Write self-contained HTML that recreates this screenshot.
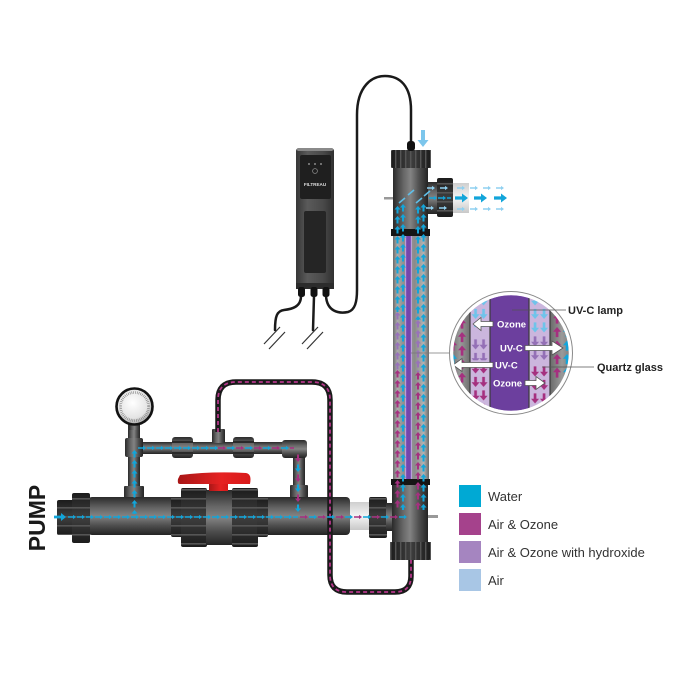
<!DOCTYPE html>
<html><head><meta charset="utf-8"><style>html,body{margin:0;padding:0;background:#fff}svg{display:block}</style></head>
<body>
<svg width="700" height="700" viewBox="0 0 700 700" xmlns="http://www.w3.org/2000/svg" font-family="Liberation Sans, Arial, sans-serif">
<defs>
<linearGradient id="pH" x1="0" y1="0" x2="0" y2="1">
<stop offset="0" stop-color="#2a2a2a"/><stop offset="0.3" stop-color="#666"/><stop offset="0.5" stop-color="#838383"/><stop offset="0.75" stop-color="#4e4e4e"/><stop offset="1" stop-color="#242424"/>
</linearGradient>
<linearGradient id="pV" x1="0" y1="0" x2="1" y2="0">
<stop offset="0" stop-color="#2a2a2a"/><stop offset="0.3" stop-color="#666"/><stop offset="0.5" stop-color="#838383"/><stop offset="0.75" stop-color="#4e4e4e"/><stop offset="1" stop-color="#242424"/>
</linearGradient>
<linearGradient id="tube" x1="0" y1="0" x2="1" y2="0">
<stop offset="0" stop-color="#6a6a6a"/><stop offset="0.12" stop-color="#ababab"/><stop offset="0.3" stop-color="#8e8e8e"/><stop offset="0.45" stop-color="#9c9c9c"/><stop offset="0.6" stop-color="#8a8a8a"/><stop offset="0.85" stop-color="#b3b3b3"/><stop offset="1" stop-color="#6a6a6a"/>
</linearGradient>
<linearGradient id="nutH" x1="0" y1="0" x2="0" y2="1">
<stop offset="0" stop-color="#1c1c1c"/><stop offset="0.5" stop-color="#3e3e3e"/><stop offset="1" stop-color="#1c1c1c"/>
</linearGradient>
<linearGradient id="nutV" x1="0" y1="0" x2="1" y2="0">
<stop offset="0" stop-color="#1c1c1c"/><stop offset="0.5" stop-color="#3e3e3e"/><stop offset="1" stop-color="#1c1c1c"/>
</linearGradient>
<linearGradient id="ctrl" x1="0" y1="0" x2="1" y2="0">
<stop offset="0" stop-color="#363636"/><stop offset="0.3" stop-color="#5a5a5a"/><stop offset="0.7" stop-color="#4a4a4a"/><stop offset="1" stop-color="#303030"/>
</linearGradient>
<linearGradient id="red" x1="0" y1="0" x2="1" y2="0">
<stop offset="0" stop-color="#a81616"/><stop offset="0.6" stop-color="#e62222"/><stop offset="1" stop-color="#d81a1a"/>
</linearGradient>
<linearGradient id="sleeve" x1="0" y1="0" x2="0" y2="1">
<stop offset="0" stop-color="#cfcfcf"/><stop offset="0.5" stop-color="#f4f4f4"/><stop offset="1" stop-color="#c8c8c8"/>
</linearGradient>
<linearGradient id="grayC" x1="0" y1="0" x2="1" y2="0">
<stop offset="0" stop-color="#6a6a6a"/><stop offset="0.5" stop-color="#9a9a9a"/><stop offset="1" stop-color="#707070"/>
</linearGradient>
<radialGradient id="gauge" cx="0.45" cy="0.4" r="0.6">
<stop offset="0" stop-color="#ffffff"/><stop offset="0.7" stop-color="#e4e4e4"/><stop offset="1" stop-color="#a8a8a8"/>
</radialGradient>
<pattern id="ribH" width="10" height="9" patternUnits="userSpaceOnUse"><rect y="3" width="10" height="1.6" fill="#555"/></pattern>
<pattern id="ribV" width="5" height="10" patternUnits="userSpaceOnUse"><rect width="1.4" height="10" fill="#555"/></pattern>
<pattern id="vaB" width="6" height="10" patternUnits="userSpaceOnUse"><path d="M3 0L6 3.5H4V7.5H2V3.5H0Z" fill="#12a5da"/></pattern>
<pattern id="vaP" width="6" height="10" patternUnits="userSpaceOnUse"><path d="M3 0L6 3.5H4V7.5H2V3.5H0Z" fill="#9873b9"/></pattern>
<pattern id="vaM" width="6" height="10" patternUnits="userSpaceOnUse"><path d="M3 0L6 3.5H4V7.5H2V3.5H0Z" fill="#a5307f"/></pattern>
<pattern id="vaBM" width="6" height="20" patternUnits="userSpaceOnUse"><path d="M3 0L6 3.5H4V7.5H2V3.5H0Z" fill="#12a5da"/><path d="M3 10L6 13.5H4V17.5H2V13.5H0Z" fill="#a5307f"/></pattern>
<pattern id="vdL" width="6" height="10" patternUnits="userSpaceOnUse"><path d="M3 10L6 6.5H4V2.5H2V6.5H0Z" fill="#6fc3ea"/></pattern>
<pattern id="vdP" width="6" height="10" patternUnits="userSpaceOnUse"><path d="M3 10L6 6.5H4V2.5H2V6.5H0Z" fill="#9470b6"/></pattern>
<pattern id="vdM" width="6" height="10" patternUnits="userSpaceOnUse"><path d="M3 10L6 6.5H4V2.5H2V6.5H0Z" fill="#a5307f"/></pattern>
<pattern id="vdBM" width="6" height="20" patternUnits="userSpaceOnUse"><path d="M3 10L6 6.5H4V2.5H2V6.5H0Z" fill="#a5307f"/><path d="M3 20L6 16.5H4V12.5H2V16.5H0Z" fill="#12a5da"/></pattern>
<pattern id="haB" width="9" height="6" patternUnits="userSpaceOnUse"><path d="M0 2.3H5V3.7H0Z M5 0.9L8 3L5 5.1Z" fill="#12a5da"/></pattern>
<pattern id="haL" width="13" height="6" patternUnits="userSpaceOnUse"><path d="M0 2.3H5V3.7H0Z M5 0.9L8 3L5 5.1Z" fill="#8fd0f0"/></pattern>
<pattern id="haBM" width="18" height="6" patternUnits="userSpaceOnUse"><path d="M0 2.3H5V3.7H0Z M5 0.9L8 3L5 5.1Z" fill="#a5307f"/><path d="M9 2.3H14V3.7H9Z M14 0.9L17 3L14 5.1Z" fill="#12a5da"/></pattern>
<clipPath id="circ"><circle cx="511" cy="353" r="58"/></clipPath>
</defs>

<rect width="700" height="700" fill="#fff"/>

<g fill="none" stroke="#1a1a1a" stroke-width="2.5" stroke-linecap="round">
<path d="M326 296 C327 311, 338 314, 348 312 C355 310, 357 302, 357 290 L357 115 C357 86, 372 76, 385 76 C400 76, 411 86, 411 110 L411 143"/>
<path d="M301 296 C301 307, 292 309, 284 310 C277 311, 275 316, 275 330"/>
<path d="M314 296 L313 330"/>
</g>
<g stroke="#333" stroke-width="1.2">
<line x1="264" y1="344" x2="280" y2="327"/><line x1="269" y1="349" x2="285" y2="332"/>
<line x1="302" y1="344" x2="318" y2="327"/><line x1="307" y1="349" x2="323" y2="332"/>
</g>
<rect x="296" y="148" width="38" height="141" rx="3" fill="url(#ctrl)"/>
<rect x="297" y="148" width="36" height="3" rx="1.5" fill="#8a8a8a"/>
<rect x="300" y="155" width="31" height="44" rx="2" fill="#1f1f1f"/>
<circle cx="309" cy="164" r="0.9" fill="#aaa"/><circle cx="315" cy="164" r="0.9" fill="#aaa"/><circle cx="321" cy="164" r="0.9" fill="#aaa"/>
<circle cx="315" cy="171" r="2.4" fill="none" stroke="#888" stroke-width="0.8"/>
<text x="315" y="186" font-size="4.6" font-weight="bold" fill="#ddd" text-anchor="middle">FILTREAU</text>
<rect x="304" y="211" width="22" height="62" rx="2" fill="#252525"/>
<rect x="296" y="283" width="38" height="6" fill="#2c2c2c"/>
<rect x="298" y="287" width="7" height="10" rx="2.5" fill="#111"/>
<rect x="310.5" y="287" width="7" height="10" rx="2.5" fill="#111"/>
<rect x="322.5" y="287" width="7" height="10" rx="2.5" fill="#111"/>

<rect x="127" y="442" width="176" height="12" fill="url(#pH)"/>
<rect x="128" y="424" width="12" height="68" fill="url(#pV)"/>
<rect x="125" y="438" width="18" height="19" rx="2" fill="url(#pV)"/>
<rect x="124" y="486" width="20" height="12" rx="1" fill="url(#pV)"/>
<rect x="172" y="437" width="21" height="21" rx="3" fill="url(#pH)"/>
<rect x="172" y="441" width="21" height="2" fill="#2a2a2a"/><rect x="172" y="452" width="21" height="2" fill="#2a2a2a"/>
<rect x="233" y="437" width="21" height="21" rx="3" fill="url(#pH)"/>
<rect x="233" y="441" width="21" height="2" fill="#2a2a2a"/><rect x="233" y="452" width="21" height="2" fill="#2a2a2a"/>
<rect x="212" y="429" width="13" height="14" rx="1" fill="url(#pV)"/>
<rect x="293" y="452" width="12" height="36" fill="url(#pV)"/>
<rect x="282" y="440" width="25" height="18" rx="3" fill="url(#pH)"/>
<rect x="290" y="485" width="18" height="13" rx="1" fill="url(#pV)"/>
<rect x="129" y="422" width="11" height="8" fill="url(#pV)"/>
<circle cx="134.5" cy="406.5" r="18" fill="url(#gauge)" stroke="#121212" stroke-width="2.6"/>
<circle cx="134.5" cy="406.5" r="14" fill="none" stroke="#6a6a6a" stroke-width="2.6" stroke-dasharray="0.5 1.3"/>

<rect x="88" y="497" width="262" height="38" rx="4" fill="url(#pH)"/>
<rect x="350" y="502" width="20" height="28" fill="url(#sleeve)"/>
<rect x="369" y="497" width="18" height="41" rx="2" fill="url(#nutH)"/>
<rect x="369" y="497" width="18" height="41" rx="2" fill="url(#ribH)"/>
<rect x="386" y="503" width="7" height="28" fill="url(#pH)"/>
<rect x="57" y="500" width="17" height="35" rx="2" fill="url(#nutH)"/>
<rect x="57" y="500" width="17" height="35" rx="2" fill="url(#ribH)"/>
<rect x="72" y="493" width="18" height="50" rx="2" fill="url(#nutH)"/>
<rect x="72" y="493" width="18" height="50" rx="2" fill="url(#ribH)"/>
<rect x="171" y="498" width="12" height="39" rx="2" fill="url(#nutH)"/>
<rect x="171" y="498" width="12" height="39" fill="url(#ribH)"/>
<rect x="181" y="488" width="26" height="59" rx="2" fill="url(#nutH)"/>
<rect x="181" y="488" width="26" height="59" fill="url(#ribH)"/>
<rect x="206" y="490" width="28" height="55" fill="url(#pH)"/>
<rect x="232" y="488" width="26" height="59" rx="2" fill="url(#nutH)"/>
<rect x="232" y="488" width="26" height="59" fill="url(#ribH)"/>
<rect x="257" y="498" width="11" height="39" rx="2" fill="url(#nutH)"/>
<rect x="257" y="498" width="11" height="39" fill="url(#ribH)"/>
<rect x="209" y="482" width="19" height="9" fill="url(#red)"/>
<path d="M180 475 Q213 471 246 473 Q252 474 250 484 L180 484 Q177 484 178 479 Z" fill="url(#red)"/>

<rect x="393" y="234" width="36" height="248" fill="url(#tube)"/>
<rect x="405" y="234" width="7" height="248" fill="#b9a0d8"/>
<rect x="406.2" y="234" width="4.6" height="248" fill="#7445ad"/>
<rect x="392" y="484" width="36" height="60" fill="url(#pV)"/>
<rect x="391" y="479" width="39" height="6" fill="#151515"/>
<rect x="390" y="542" width="41" height="18" rx="2" fill="url(#nutV)"/>
<rect x="390" y="542" width="41" height="18" fill="url(#ribV)"/>
<rect x="428" y="515" width="10" height="3" fill="#999"/>
<rect x="393" y="166" width="35" height="68" fill="url(#pV)"/>
<rect x="391" y="150" width="40" height="18" rx="2" fill="url(#nutV)"/>
<rect x="391" y="150" width="40" height="18" fill="url(#ribV)"/>
<rect x="391" y="229" width="39" height="7" fill="#151515"/>
<rect x="428" y="182" width="10" height="32" fill="url(#pH)"/>
<rect x="452" y="183" width="17" height="30" fill="url(#sleeve)"/>
<rect x="437" y="178" width="16" height="39" rx="2" fill="url(#nutH)"/>
<rect x="437" y="178" width="16" height="39" fill="url(#ribH)"/>
<rect x="384" y="197" width="9" height="2.5" fill="#999"/>
<rect x="407" y="141" width="8" height="10" rx="3" fill="#111"/>
<path d="M421 130H425V140H428.5L423 147L417.5 140H421Z" fill="#7cc6ec"/>

<path d="M218 432 L218 400 Q218 382 236 382 L312 382 Q330 382 330 400 L330 575 Q330 592 347 592 L395 592 Q411 592 411 576 L411 560" fill="none" stroke="#1a1a1a" stroke-width="5.5"/>
<path d="M218 432 L218 400 Q218 382 236 382 L312 382 Q330 382 330 400 L330 575 Q330 592 347 592 L395 592 Q411 592 411 576 L411 560" fill="none" stroke="#b5368a" stroke-width="1.8" stroke-dasharray="4 3"/>

<path d="M54 515.6H61V513L66 517L61 521V518.4H54Z" fill="#12a5da"/>
<g transform="translate(68,514)"><rect width="230" height="6" fill="url(#haB)"/></g>
<g transform="translate(300,514)"><rect width="108" height="6" fill="url(#haBM)"/></g>
<g transform="translate(131.5,450)"><rect width="6" height="64" fill="url(#vaB)"/></g>
<g transform="translate(138,445)"><rect width="80" height="6" fill="url(#haB)"/></g>
<g transform="translate(218,445)"><rect width="76" height="6" fill="url(#haBM)"/></g>
<g transform="translate(295,452)"><rect width="6" height="62" fill="url(#vdBM)"/></g>
<g transform="translate(394.5,236)"><rect width="6" height="76" fill="url(#vaB)"/></g>
<g transform="translate(394.5,312)"><rect width="6" height="58" fill="url(#vaP)"/></g>
<g transform="translate(394.5,370)"><rect width="6" height="140" fill="url(#vaM)"/></g>
<g transform="translate(400,204)"><rect width="6" height="306" fill="url(#vaB)"/></g>
<g transform="translate(415,236)"><rect width="6" height="84" fill="url(#vaB)"/></g>
<g transform="translate(415,320)"><rect width="6" height="52" fill="url(#vaP)"/></g>
<g transform="translate(415,372)"><rect width="6" height="138" fill="url(#vaM)"/></g>
<g transform="translate(420.5,204)"><rect width="6" height="306" fill="url(#vaB)"/></g>
<g transform="translate(394.5,206)"><rect width="6" height="30" fill="url(#vaB)"/></g>
<g transform="translate(415,206)"><rect width="6" height="30" fill="url(#vaB)"/></g>
<g stroke="#5fbfe8" stroke-width="1.6" fill="none">
<line x1="399" y1="203" x2="405" y2="198"/><line x1="408" y1="195" x2="414" y2="190"/>
<line x1="416" y1="203" x2="422" y2="198"/><line x1="424" y1="196" x2="430" y2="191"/>
</g>
<g transform="translate(427,185)"><rect width="24" height="6" fill="url(#haL)"/></g>
<g transform="translate(429,195)"><rect width="22" height="6" fill="url(#haB)"/></g>
<g transform="translate(426,205)"><rect width="24" height="6" fill="url(#haL)"/></g>
<g fill="#12a5da">
<path d="M455 196.4H462V193.5L468 198L462 202.5V199.6H455Z"/>
<path d="M474 196.4H481V193.5L487 198L481 202.5V199.6H474Z"/>
<path d="M494 196.4H501V193.5L507 198L501 202.5V199.6H494Z"/>
</g>
<g transform="translate(457,185)"><rect width="52" height="6" fill="url(#haL)"/></g>
<g transform="translate(457,206)"><rect width="52" height="6" fill="url(#haL)"/></g>

<line x1="411" y1="353" x2="452" y2="353" stroke="#777" stroke-width="0.8"/>
<g clip-path="url(#circ)">
<rect x="450" y="290" width="20" height="130" fill="url(#grayC)"/>
<rect x="470" y="290" width="20" height="130" fill="#cbb6dd"/>
<rect x="490" y="290" width="39" height="130" fill="#6c3f9e"/>
<rect x="529" y="290" width="21" height="130" fill="#cbb6dd"/>
<rect x="550" y="290" width="24" height="130" fill="url(#grayC)"/>
<g stroke="#3a3a3a" stroke-width="1.2"><line x1="470" y1="290" x2="470" y2="420"/><line x1="490" y1="290" x2="490" y2="420"/><line x1="529" y1="290" x2="529" y2="420"/><line x1="550" y1="290" x2="550" y2="420"/></g>
<g transform="translate(449,300) scale(1.35)"><rect width="6" height="60" fill="url(#vaBM)"/></g>
<g transform="translate(458,305) scale(1.35)"><rect width="6" height="60" fill="url(#vaM)"/></g>
<g transform="translate(553,300) scale(1.35)"><rect width="6" height="60" fill="url(#vaM)"/></g>
<g transform="translate(563,300) scale(1.35)"><rect width="6" height="60" fill="url(#vaB)"/></g>
<g transform="translate(471.5,292) scale(1.35)"><rect width="6" height="26" fill="url(#vdL)"/></g>
<g transform="translate(471.5,336) scale(1.35)"><rect width="6" height="18" fill="url(#vdP)"/></g>
<g transform="translate(471.5,360) scale(1.35)"><rect width="6" height="50" fill="url(#vdM)"/></g>
<g transform="translate(479.5,292) scale(1.35)"><rect width="6" height="26" fill="url(#vdL)"/></g>
<g transform="translate(479.5,336) scale(1.35)"><rect width="6" height="18" fill="url(#vdP)"/></g>
<g transform="translate(479.5,360) scale(1.35)"><rect width="6" height="50" fill="url(#vdM)"/></g>
<g transform="translate(531,292) scale(1.35)"><rect width="6" height="30" fill="url(#vdL)"/></g>
<g transform="translate(531,333) scale(1.35)"><rect width="6" height="22" fill="url(#vdP)"/></g>
<g transform="translate(531,363) scale(1.35)"><rect width="6" height="50" fill="url(#vdM)"/></g>
<g transform="translate(540,292) scale(1.35)"><rect width="6" height="30" fill="url(#vdL)"/></g>
<g transform="translate(540,333) scale(1.35)"><rect width="6" height="22" fill="url(#vdP)"/></g>
<g transform="translate(540,363) scale(1.35)"><rect width="6" height="50" fill="url(#vdM)"/></g>
<g fill="#fff" stroke="#555" stroke-width="0.8">
<path d="M473 324L481 317.5V321.5H493V326.5H481V330.5Z"/>
<path d="M525 345.5H552V341L563 348L552 355V350.5H525Z"/>
<path d="M453 365L462 358.5V362.5H493V367.5H462V371.5Z"/>
<path d="M525 380.5H536V376.5L545 383L536 389.5V385.5H525Z"/>
</g>
<g fill="#fff" font-size="9.5" font-weight="bold">
<text x="497" y="327.5">Ozone</text>
<text x="500" y="351.5">UV-C</text>
<text x="495" y="368.5">UV-C</text>
<text x="493" y="386.5">Ozone</text>
</g>
</g>
<circle cx="511" cy="353" r="59.5" fill="none" stroke="#fff" stroke-width="3.5"/>
<circle cx="511" cy="353" r="61.5" fill="none" stroke="#8a8a8a" stroke-width="1"/>
<line x1="512" y1="310" x2="566" y2="310" stroke="#555" stroke-width="0.8"/>
<line x1="542" y1="367" x2="594" y2="367" stroke="#555" stroke-width="0.8"/>
<text x="568" y="314" font-size="11" font-weight="bold" fill="#222">UV-C lamp</text>
<text x="597" y="371" font-size="11" font-weight="bold" fill="#222">Quartz glass</text>

<rect x="459" y="485" width="22" height="22" fill="#00a9d4"/>
<rect x="459" y="513" width="22" height="22" fill="#a5428c"/>
<rect x="459" y="541" width="22" height="22" fill="#a585c0"/>
<rect x="459" y="569" width="22" height="22" fill="#a8c6e5"/>
<g font-size="13" fill="#333">
<text x="488" y="501">Water</text>
<text x="488" y="529">Air &amp; Ozone</text>
<text x="488" y="557">Air &amp; Ozone with hydroxide</text>
<text x="488" y="585">Air</text>
</g>

<text transform="translate(45,518) rotate(-90)" text-anchor="middle" font-size="23" font-weight="bold" fill="#1a1a1a">PUMP</text>
</svg>
</body></html>
